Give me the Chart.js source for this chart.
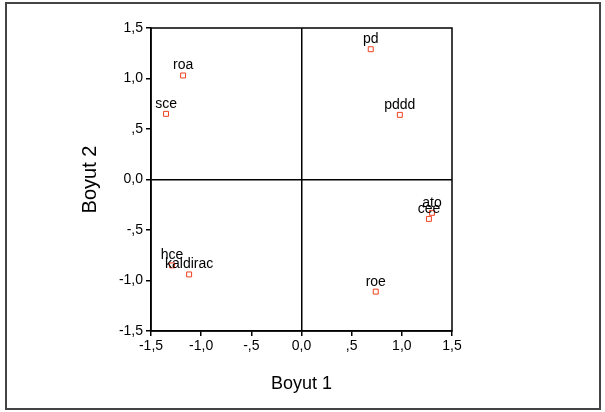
<!DOCTYPE html>
<html>
<head>
<meta charset="utf-8">
<script src="https://cdn.jsdelivr.net/npm/chart.js@4/dist/chart.umd.min.js"></script>
<style>
  html, body { margin: 0; padding: 0; background: #fff; }
  #wrap { width: 605px; height: 412px; }
</style>
</head>
<body>
<div id="wrap"><canvas id="chart" width="605" height="412"></canvas></div>
<script>
// variable names and their coordinates on the two dimensions
const names   = ["roa", "sce", "pd", "pddd", "hce", "kaldirac", "ato", "cee", "roe"];
const boyut1  = [-1.18, -1.35, 0.69, 0.98, -1.29, -1.12, 1.30, 1.27, 0.74];
const boyut2  = [1.03, 0.65, 1.29, 0.64, -0.85, -0.94, -0.33, -0.39, -1.11];
const tickValues = [-1.5, -1.0, -0.5, 0, 0.5, 1.0, 1.5];

const FONT = "'Liberation Sans', Arial, sans-serif";

// SPSS style: comma decimals, no leading zero below 1
function fmt(v) {
  let s = Math.abs(v).toFixed(1).replace('.', ',');
  if (v !== 0 && Math.abs(v) < 1) s = s.replace(/^0/, '');
  return (v < 0 ? '-' : '') + s;
}

const points = names.map((n, i) => ({x: boyut1[i], y: boyut2[i], label: n}));

// outer frame, box around the plot area and the point labels
const extras = {
  id: 'extras',
  beforeDraw(chart) {
    const c = chart.ctx;
    c.save();
    c.fillStyle = '#fff';
    c.fillRect(0, 0, chart.width, chart.height);
    c.strokeStyle = '#444';
    c.lineWidth = 2;
    c.strokeRect(6, 3, 594, 406);
    c.restore();
  },
  afterDatasetsDraw(chart) {
    const c = chart.ctx;
    const a = chart.chartArea;
    c.save();
    c.strokeStyle = '#000';
    c.lineWidth = 1.5;
    c.strokeRect(a.left, a.top, a.right - a.left, a.bottom - a.top);
    c.fillStyle = '#000';
    c.font = '14px ' + FONT;
    c.textAlign = 'center';
    c.textBaseline = 'alphabetic';
    chart.getDatasetMeta(0).data.forEach((el, i) => {
      c.fillText(points[i].label, el.x, el.y - 6);
    });
    c.restore();
  }
};

new Chart(document.getElementById('chart'), {
  type: 'scatter',
  data: {
    datasets: [{
      data: points,
      pointStyle: 'rect',
      pointRadius: 3.5,
      pointHoverRadius: 3.5,
      borderWidth: 1,
      borderColor: '#f0401e',
      backgroundColor: '#fff'
    }]
  },
  options: {
    responsive: false,
    animation: false,
    events: [],
    layout: { padding: { left: 78, right: 153, top: 28, bottom: 17 } },
    plugins: { legend: { display: false }, tooltip: { enabled: false } },
    scales: {
      x: {
        type: 'linear',
        min: -1.5, max: 1.5,
        afterBuildTicks: (s) => { s.ticks = tickValues.map(v => ({value: v})); },
        afterFit: (s) => { s.height = 64; },
        ticks: { callback: fmt, color: '#000', font: { family: FONT, size: 14 }, padding: 2, maxRotation: 0 },
        grid: {
          color: (ctx) => ctx.tick && ctx.tick.value === 0 ? '#000' : 'rgba(0,0,0,0)',
          lineWidth: 1.5,
          tickColor: '#000',
          tickLength: 5
        },
        border: { display: true, color: '#000', width: 1.5 },
        title: { display: true, text: 'Boyut 1', color: '#000', font: { family: FONT, size: 18 }, padding: 0 }
      },
      y: {
        type: 'linear',
        min: -1.5, max: 1.5,
        afterBuildTicks: (s) => { s.ticks = tickValues.map(v => ({value: v})); },
        afterFit: (s) => { s.width = 73; },
        ticks: { callback: fmt, color: '#000', font: { family: FONT, size: 14 }, padding: 3 },
        grid: {
          color: (ctx) => ctx.tick && ctx.tick.value === 0 ? '#000' : 'rgba(0,0,0,0)',
          lineWidth: 1.5,
          tickColor: '#000',
          tickLength: 5
        },
        border: { display: true, color: '#000', width: 1.5 },
        title: { display: true, text: 'Boyut 2', color: '#000', font: { family: FONT, size: 20 }, padding: 0 }
      }
    }
  },
  plugins: [extras]
});
</script>
</body>
</html>
